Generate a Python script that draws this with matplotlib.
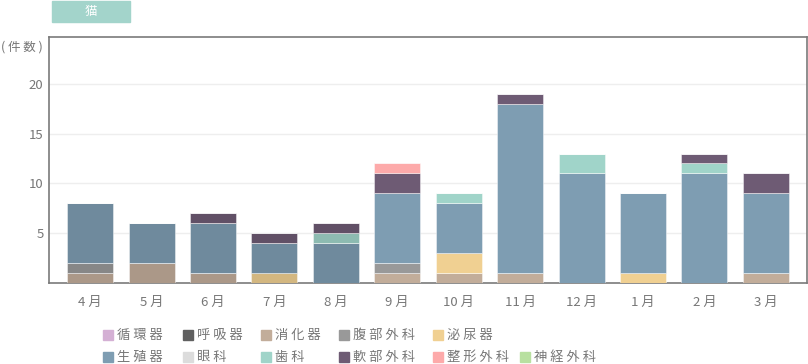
import matplotlib
matplotlib.use("Agg")
import matplotlib.pyplot as plt
from matplotlib.patches import Rectangle
import numpy as np

plt.rcParams['font.family'] = ['Noto Sans CJK JP', 'DejaVu Sans']

months = ["4月", "5月", "6月", "7月", "8月", "9月", "10月", "11月", "12月", "1月", "2月", "3月"]
categories = ["循環器", "呼吸器", "消化器", "腹部外科", "泌尿器", "生殖器",
              "眼科", "歯科", "軟部外科", "整形外科", "神経外科"]

junkanki   = [0, 0, 0, 0, 0, 0, 0, 0, 0, 0, 0, 0]
kokyuki    = [0, 0, 0, 0, 0, 0, 0, 0, 0, 0, 0, 0]
shokaki    = [1, 2, 1, 0, 0, 1, 1, 1, 0, 0, 0, 1]
fukubu     = [1, 0, 0, 0, 0, 1, 0, 0, 0, 0, 0, 0]
hinyoki    = [0, 0, 0, 1, 0, 0, 2, 0, 0, 1, 0, 0]
seishokuki = [6, 4, 5, 3, 4, 7, 5, 17, 11, 8, 11, 8]
ganka      = [0, 0, 0, 0, 0, 0, 0, 0, 0, 0, 0, 0]
shika      = [0, 0, 0, 0, 1, 0, 1, 0, 2, 0, 1, 0]
nanbu      = [0, 0, 1, 1, 1, 2, 0, 1, 0, 0, 1, 2]
seikei     = [0, 0, 0, 0, 0, 1, 0, 0, 0, 0, 0, 0]
shinkei    = [0, 0, 0, 0, 0, 0, 0, 0, 0, 0, 0, 0]

series = [junkanki, kokyuki, shokaki, fukubu, hinyoki, seishokuki,
          ganka, shika, nanbu, seikei, shinkei]

colors = ["#d4b0d4", "#606060", "#c2ad9a", "#999999", "#f0d092", "#7e9db2",
          "#dcdcdc", "#a0d4c9", "#6e5b74", "#fdaaaa", "#b8e0a0"]

yticks = [5, 10, 15, 20]

fig = plt.figure(figsize=(8.08, 3.64), dpi=100)
W, H = 808, 364
ax = fig.add_axes([49 / W, 1 - 283 / H, (807 - 49) / W, (283 - 37) / H])

x = np.arange(len(months))
bottom = np.zeros(len(months))
dark_n = 5
for vals, col in zip(series, colors):
    v = np.array(vals, dtype=float)
    rgb = np.array(matplotlib.colors.to_rgb(col))
    cols = [tuple(rgb * 0.88) if i < dark_n else tuple(rgb) for i in range(len(months))]
    ax.bar(x, v, bottom=bottom, width=0.75, color=cols,
           edgecolor=(1, 1, 1, 0.5), linewidth=0.6, zorder=3)
    bottom += v

ax.set_xlim(-0.67, len(months) - 1 + 0.67)
ax.set_ylim(0, 24.7)
ax.set_yticks(yticks)
ax.set_yticklabels([str(t) for t in yticks])
ax.set_xticks(x)
ax.set_xticklabels([m[:-1] + " " + m[-1] for m in months])
ax.grid(axis='y', color='#eeeeee', linewidth=1, zorder=0)
ax.tick_params(axis='both', length=0, colors='#777777', labelsize=9.5)
ax.tick_params(axis='x', pad=9)
ax.tick_params(axis='y', pad=4)
for s in ax.spines.values():
    s.set_color('#7a7a7a')
    s.set_linewidth(1.2)

# y-axis unit label
fig.text(1 / W, 1 - 47 / H, "( 件 数 )", fontsize=9, color='#777777',
         ha='left', va='center')

# title box
fig.patches.append(Rectangle((52 / W, 1 - 22 / H), 78 / W, 21 / H,
                             transform=fig.transFigure, color='#a3d4cb', zorder=0))
fig.text(91 / W, 1 - 11.5 / H, "猫", fontsize=9, color='white',
         ha='center', va='center')

# legend
col_x = [103, 183, 261, 339, 433, 520]
row_y = [335, 357]
for i, (name, col) in enumerate(zip(categories, colors)):
    r = 0 if i < 5 else 1
    c = i if i < 5 else i - 5
    lx = col_x[c]
    ly = row_y[r]
    fig.patches.append(Rectangle((lx / W, 1 - (ly + 5) / H), 10 / W, 10 / H,
                                 transform=fig.transFigure, color=col))
    fig.text((lx + 14) / W, 1 - ly / H, " ".join(name), fontsize=9.5,
             color='#777777', ha='left', va='center')

fig.savefig("out.png", dpi=100)
